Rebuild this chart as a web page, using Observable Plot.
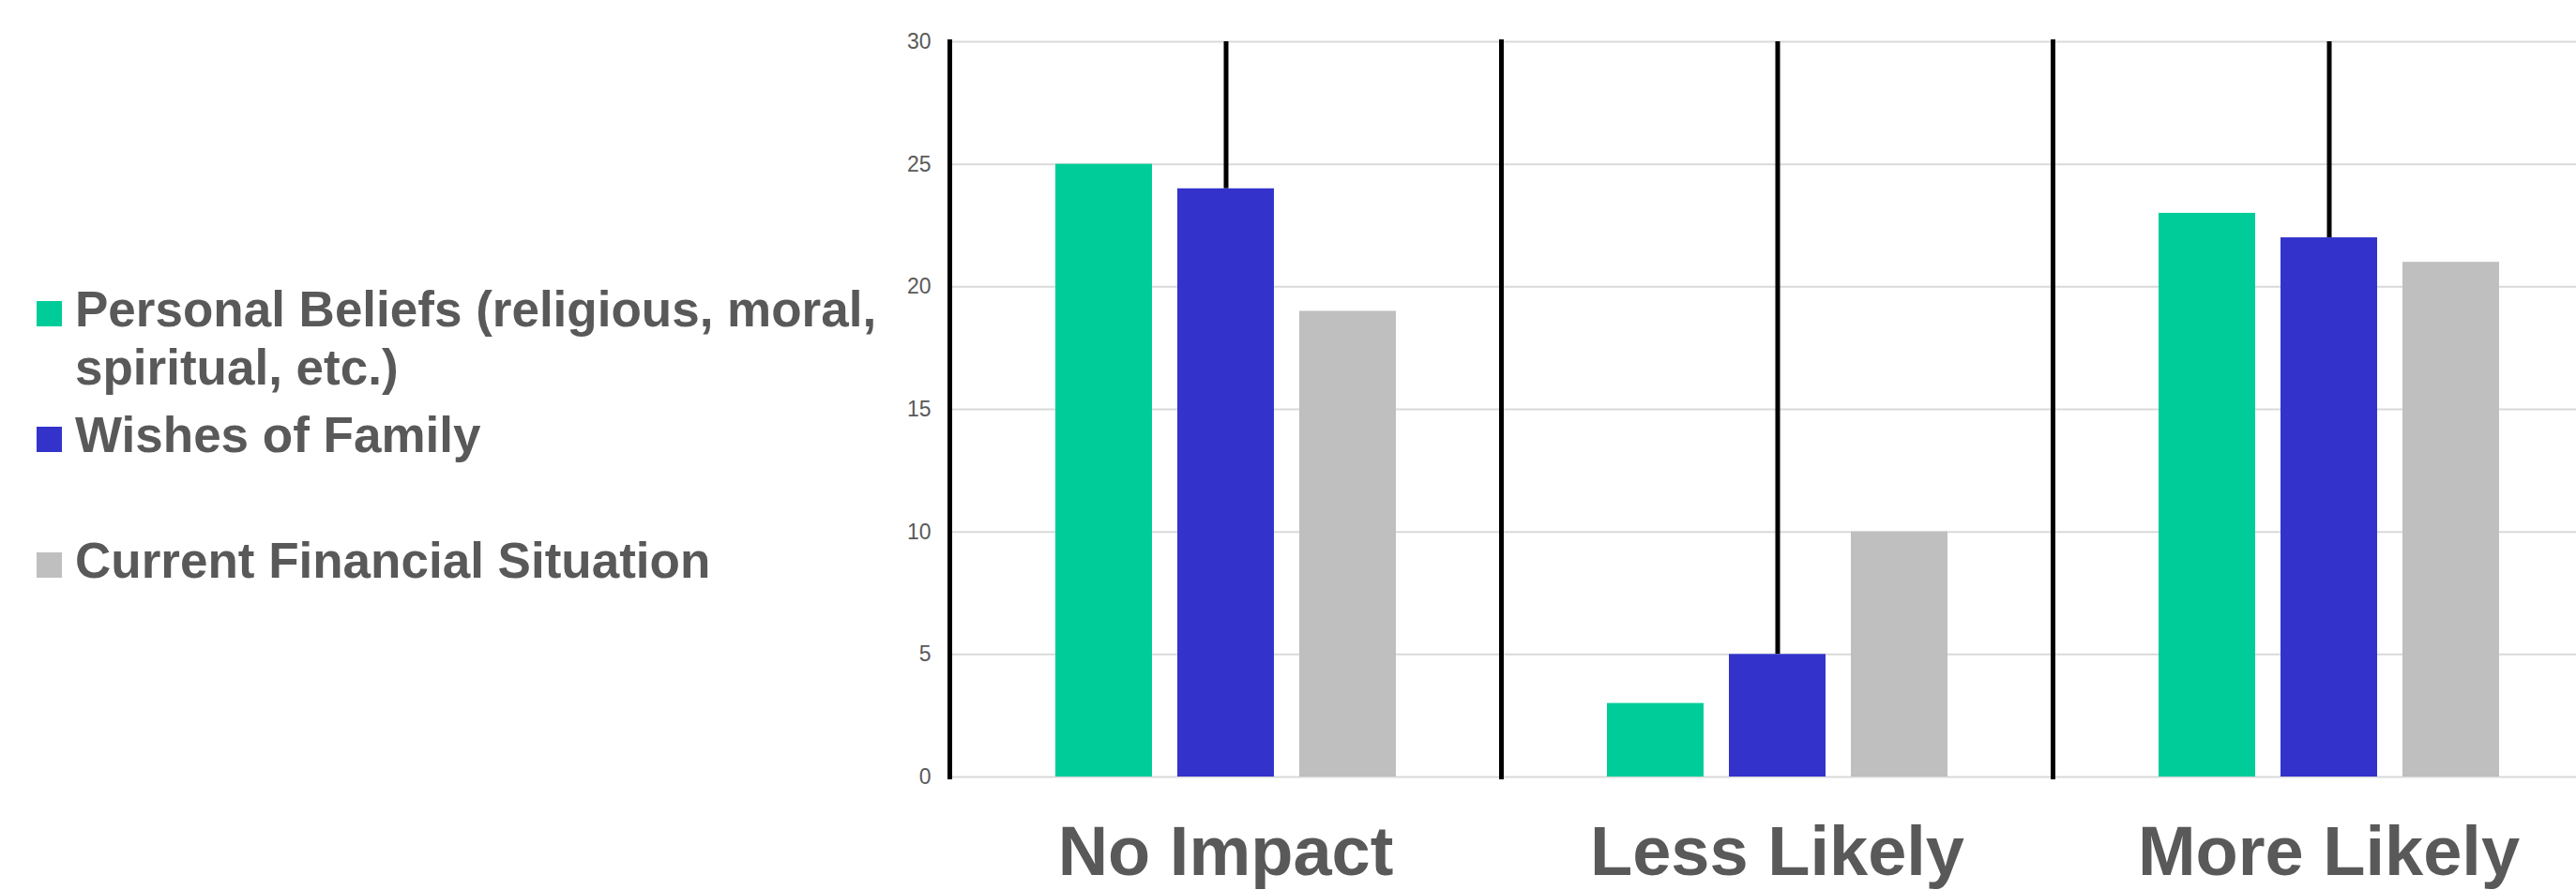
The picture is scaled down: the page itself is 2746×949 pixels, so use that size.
<!DOCTYPE html>
<html>
<head>
<meta charset="utf-8">
<script src="https://cdn.jsdelivr.net/npm/d3@7"></script>
<script src="https://cdn.jsdelivr.net/npm/@observablehq/plot@0.6"></script>
<style>
  html, body { margin: 0; padding: 0; background: #ffffff; overflow: hidden; width: 2746px; height: 949px; }
  #wrap { position: relative; width: 2746px; height: 949px; overflow: hidden; }
  #chart { position: absolute; left: 0; top: 0; }
  .item { position: absolute; left: 39px; display: flex; align-items: flex-start;
          font-family: "Liberation Sans", Arial, sans-serif; font-weight: bold;
          font-size: 53px; line-height: 62px; color: #595959; }
  .sw { width: 27px; height: 27px; margin-top: 22px; margin-right: 14px; flex: none; }
  .txt { max-width: 910px; }
</style>
</head>
<body>
<div id="wrap">
  <div id="chart"></div>
  <div id="legend"></div>
</div>
<script>
const categories = ["No Impact", "Less Likely", "More Likely"];
const series = ["Personal Beliefs (religious, moral, spiritual, etc.)", "Wishes of Family", "Current Financial Situation"];
const personalBeliefs = [25, 3, 23];
const wishesOfFamily = [24, 5, 22];
const financialSituation = [19, 10, 21];
const yTicks = [0, 5, 10, 15, 20, 25, 30];
const colors = ["#00CC99", "#3333CC", "#BFBFBF"];
const legendTops = [299, 433, 567];

const values = [personalBeliefs, wishesOfFamily, financialSituation];
const rows = [];
categories.forEach((c, i) => series.forEach((s, j) => rows.push({category: c, series: s, value: values[j][i]})));
const yMax = yTicks[yTicks.length - 1];

const svg = Plot.plot({
  width: 2776,
  height: 949,
  marginLeft: 1012,
  marginRight: 0,
  marginTop: 44,
  marginBottom: 121,
  style: {fontFamily: "'Liberation Sans', Arial, sans-serif", maxWidth: "none", overflow: "visible", background: "transparent"},
  fx: {domain: categories, padding: 0, label: null},
  x: {domain: series, paddingInner: 0.21, paddingOuter: 0.85, axis: null},
  y: {domain: [0, yMax], label: null},
  color: {domain: series, range: colors},
  marks: [
    Plot.gridY(yTicks, {stroke: "#d9d9d9", strokeOpacity: 1, strokeWidth: 2}),
    Plot.ruleX(rows.filter(d => d.series === series[1]), {fx: "category", x: "series", y1: "value", y2: () => yMax, stroke: "#000000", strokeWidth: 5}),
    Plot.barY(rows, {fx: "category", x: "series", y: "value", fill: "series"}),
    Plot.frame({anchor: "left", stroke: "#000000", strokeWidth: 5}),
    Plot.axisY(yTicks, {tickSize: 0, tickPadding: 20, fontSize: 23, fill: "#595959", label: null}),
    Plot.axisFx({anchor: "bottom", tickSize: 0, tickPadding: 52, fontSize: 74, fontWeight: "bold", fill: "#595959", label: null})
  ]
});
document.getElementById("chart").appendChild(svg);

const legend = document.getElementById("legend");
series.forEach((s, j) => {
  const item = document.createElement("div");
  item.className = "item";
  item.style.top = legendTops[j] + "px";
  const sw = document.createElement("div");
  sw.className = "sw";
  sw.style.background = colors[j];
  const t = document.createElement("div");
  t.className = "txt";
  t.textContent = s;
  item.appendChild(sw);
  item.appendChild(t);
  legend.appendChild(item);
});
</script>
</body>
</html>
